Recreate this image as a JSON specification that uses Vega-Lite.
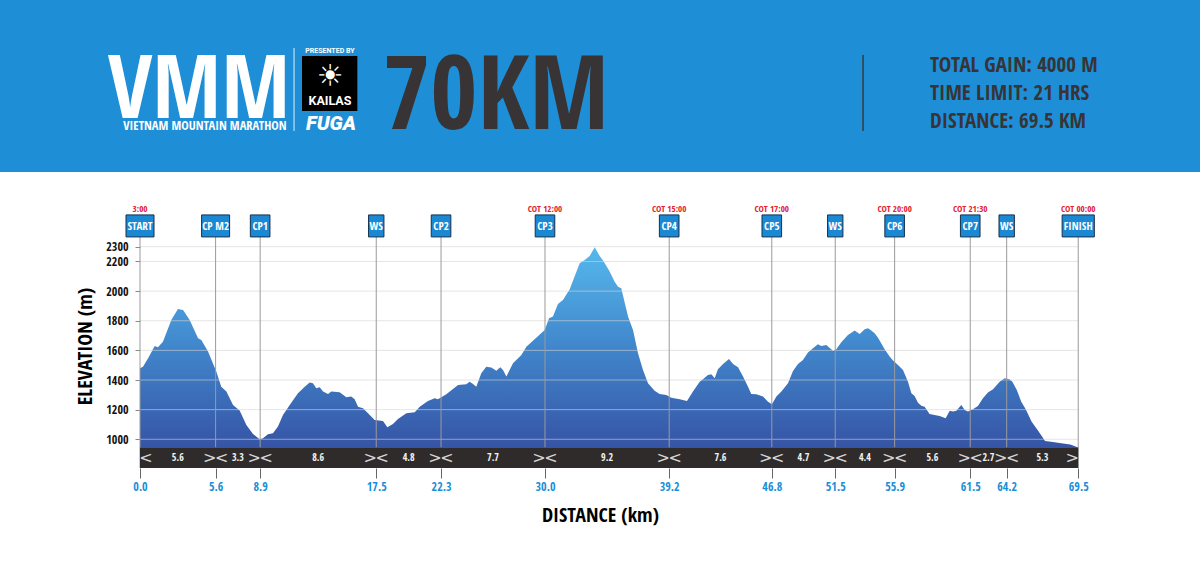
{
  "$schema": "https://vega.github.io/schema/vega-lite/v6.json",
  "width": 1060,
  "height": 468,
  "autosize": {"type": "none"},
  "padding": {"left": 140, "top": 0, "right": 0, "bottom": 93},
  "background": "white",
  "config": {
    "view": {"stroke": null},
    "font": "Open Sans Condensed, Roboto, sans-serif"
  },
  "resolve": {"axis": {"x": "independent", "y": "independent"}},
  "datasets": {
    "profile": [
      {"km": 0, "elev": 1479}, {"km": 0.22, "elev": 1490}, {"km": 0.6, "elev": 1547}, {"km": 1.09, "elev": 1630},
      {"km": 1.33, "elev": 1621}, {"km": 1.7, "elev": 1659}, {"km": 2.32, "elev": 1805}, {"km": 2.81, "elev": 1880},
      {"km": 3.19, "elev": 1873}, {"km": 3.68, "elev": 1805}, {"km": 4.3, "elev": 1682}, {"km": 4.54, "elev": 1670},
      {"km": 5.04, "elev": 1592}, {"km": 5.65, "elev": 1457}, {"km": 6.02, "elev": 1355}, {"km": 6.4, "elev": 1322},
      {"km": 6.89, "elev": 1232}, {"km": 7.38, "elev": 1194}, {"km": 7.88, "elev": 1097}, {"km": 8.37, "elev": 1036},
      {"km": 8.86, "elev": 1000}, {"km": 9.11, "elev": 1007}, {"km": 9.48, "elev": 1034}, {"km": 9.85, "elev": 1041},
      {"km": 10.22, "elev": 1086}, {"km": 10.59, "elev": 1164}, {"km": 11.09, "elev": 1232}, {"km": 11.7, "elev": 1311},
      {"km": 12.2, "elev": 1355}, {"km": 12.57, "elev": 1383}, {"km": 12.81, "elev": 1378}, {"km": 13.06, "elev": 1344},
      {"km": 13.31, "elev": 1351}, {"km": 13.56, "elev": 1322}, {"km": 13.93, "elev": 1306}, {"km": 14.17, "elev": 1322},
      {"km": 14.79, "elev": 1317}, {"km": 15.28, "elev": 1284}, {"km": 15.65, "elev": 1288}, {"km": 15.9, "elev": 1270},
      {"km": 16.15, "elev": 1220}, {"km": 16.52, "elev": 1209}, {"km": 16.89, "elev": 1175}, {"km": 17.38, "elev": 1130},
      {"km": 18.0, "elev": 1124}, {"km": 18.32, "elev": 1081}, {"km": 18.74, "elev": 1103}, {"km": 19.11, "elev": 1137},
      {"km": 19.73, "elev": 1175}, {"km": 20.35, "elev": 1182}, {"km": 20.72, "elev": 1220}, {"km": 21.33, "elev": 1259},
      {"km": 21.83, "elev": 1277}, {"km": 22.07, "elev": 1270}, {"km": 22.69, "elev": 1304}, {"km": 23.56, "elev": 1367},
      {"km": 24.17, "elev": 1371}, {"km": 24.42, "elev": 1389}, {"km": 24.67, "elev": 1373}, {"km": 24.91, "elev": 1355},
      {"km": 25.28, "elev": 1445}, {"km": 25.65, "elev": 1490}, {"km": 26.02, "elev": 1484}, {"km": 26.4, "elev": 1463},
      {"km": 26.69, "elev": 1486}, {"km": 26.89, "elev": 1468}, {"km": 27.14, "elev": 1423}, {"km": 27.63, "elev": 1513},
      {"km": 28.25, "elev": 1569}, {"km": 28.62, "elev": 1625}, {"km": 29.23, "elev": 1675}, {"km": 29.98, "elev": 1738},
      {"km": 30.3, "elev": 1817}, {"km": 30.59, "elev": 1828}, {"km": 30.96, "elev": 1913}, {"km": 31.33, "elev": 1940},
      {"km": 31.83, "elev": 2012}, {"km": 32.57, "elev": 2188}, {"km": 32.94, "elev": 2210}, {"km": 33.31, "elev": 2237},
      {"km": 33.68, "elev": 2296}, {"km": 33.8, "elev": 2278}, {"km": 34.05, "elev": 2237}, {"km": 34.3, "elev": 2206},
      {"km": 34.79, "elev": 2132}, {"km": 35.16, "elev": 2064}, {"km": 35.41, "elev": 2030}, {"km": 35.65, "elev": 2019},
      {"km": 36.15, "elev": 1828}, {"km": 36.52, "elev": 1738}, {"km": 36.89, "elev": 1580}, {"km": 37.26, "elev": 1468},
      {"km": 37.63, "elev": 1378}, {"km": 38.12, "elev": 1328}, {"km": 38.49, "elev": 1306}, {"km": 38.99, "elev": 1299},
      {"km": 39.36, "elev": 1281}, {"km": 39.98, "elev": 1270}, {"km": 40.52, "elev": 1259}, {"km": 40.96, "elev": 1322},
      {"km": 41.46, "elev": 1389}, {"km": 41.7, "elev": 1405}, {"km": 42.07, "elev": 1434}, {"km": 42.32, "elev": 1439},
      {"km": 42.57, "elev": 1412}, {"km": 42.81, "elev": 1472}, {"km": 43.19, "elev": 1508}, {"km": 43.63, "elev": 1542},
      {"km": 43.93, "elev": 1508}, {"km": 44.3, "elev": 1486}, {"km": 44.67, "elev": 1423}, {"km": 45.04, "elev": 1355},
      {"km": 45.28, "elev": 1306}, {"km": 45.65, "elev": 1304}, {"km": 46.15, "elev": 1288}, {"km": 46.52, "elev": 1254},
      {"km": 46.81, "elev": 1236}, {"km": 47.14, "elev": 1288}, {"km": 47.51, "elev": 1322}, {"km": 48.0, "elev": 1378},
      {"km": 48.37, "elev": 1461}, {"km": 48.74, "elev": 1508}, {"km": 49.11, "elev": 1535}, {"km": 49.48, "elev": 1585},
      {"km": 49.85, "elev": 1614}, {"km": 50.22, "elev": 1641}, {"km": 50.47, "elev": 1630}, {"km": 50.84, "elev": 1637},
      {"km": 51.33, "elev": 1598}, {"km": 51.58, "elev": 1607}, {"km": 51.95, "elev": 1655}, {"km": 52.44, "elev": 1704},
      {"km": 52.94, "elev": 1734}, {"km": 53.31, "elev": 1711}, {"km": 53.68, "elev": 1742}, {"km": 53.93, "elev": 1749},
      {"km": 54.17, "elev": 1734}, {"km": 54.42, "elev": 1716}, {"km": 54.67, "elev": 1686}, {"km": 55.16, "elev": 1607},
      {"km": 55.53, "elev": 1558}, {"km": 55.78, "elev": 1531}, {"km": 56.15, "elev": 1502}, {"km": 56.52, "elev": 1468},
      {"km": 56.89, "elev": 1389}, {"km": 57.14, "elev": 1310}, {"km": 57.38, "elev": 1292}, {"km": 57.63, "elev": 1247},
      {"km": 57.88, "elev": 1227}, {"km": 58.12, "elev": 1220}, {"km": 58.49, "elev": 1171}, {"km": 58.86, "elev": 1164},
      {"km": 59.23, "elev": 1157}, {"km": 59.68, "elev": 1142}, {"km": 59.98, "elev": 1193}, {"km": 60.22, "elev": 1187},
      {"km": 60.47, "elev": 1193}, {"km": 60.84, "elev": 1232}, {"km": 61.09, "elev": 1198}, {"km": 61.33, "elev": 1187},
      {"km": 61.7, "elev": 1202}, {"km": 62.07, "elev": 1225}, {"km": 62.44, "elev": 1277}, {"km": 62.81, "elev": 1315},
      {"km": 63.19, "elev": 1337}, {"km": 63.68, "elev": 1389}, {"km": 64.05, "elev": 1412}, {"km": 64.4, "elev": 1405},
      {"km": 64.62, "elev": 1389}, {"km": 64.95, "elev": 1333}, {"km": 65.28, "elev": 1254}, {"km": 65.61, "elev": 1202},
      {"km": 66.05, "elev": 1119}, {"km": 66.49, "elev": 1063}, {"km": 66.82, "elev": 1018}, {"km": 67.04, "elev": 989},
      {"km": 67.48, "elev": 984}, {"km": 68.25, "elev": 973}, {"km": 68.91, "elev": 964}, {"km": 69.35, "elev": 950},
      {"km": 69.5, "elev": 943}
    ],
    "cps": [
      {"km": 0, "name": "START", "cot": "3:00"},
      {"km": 5.6, "name": "CP M2", "cot": ""},
      {"km": 8.9, "name": "CP1", "cot": ""},
      {"km": 17.5, "name": "WS", "cot": ""},
      {"km": 22.3, "name": "CP2", "cot": ""},
      {"km": 30.0, "name": "CP3", "cot": "COT 12:00"},
      {"km": 39.2, "name": "CP4", "cot": "COT 15:00"},
      {"km": 46.8, "name": "CP5", "cot": "COT 17:00"},
      {"km": 51.5, "name": "WS", "cot": ""},
      {"km": 55.9, "name": "CP6", "cot": "COT 20:00"},
      {"km": 61.5, "name": "CP7", "cot": "COT 21:30"},
      {"km": 64.2, "name": "WS", "cot": ""},
      {"km": 69.5, "name": "FINISH", "cot": "COT 00:00"}
    ],
    "segs": [
      {"km": 2.8, "dist": "5.6"}, {"km": 7.25, "dist": "3.3"}, {"km": 13.2, "dist": "8.6"}, {"km": 19.9, "dist": "4.8"},
      {"km": 26.15, "dist": "7.7"}, {"km": 34.6, "dist": "9.2"}, {"km": 43.0, "dist": "7.6"}, {"km": 49.15, "dist": "4.7"},
      {"km": 53.7, "dist": "4.4"}, {"km": 58.7, "dist": "5.6"}, {"km": 62.85, "dist": "2.7"}, {"km": 66.85, "dist": "5.3"}
    ],
    "grid": [
      {"elev": 1000}, {"elev": 1200}, {"elev": 1400}, {"elev": 1600}, {"elev": 1800}, {"elev": 2000}, {"elev": 2200}, {"elev": 2300}
    ]
  },
  "layer": [
    {
      "data": {"values": [{"t": "header"}]},
      "mark": {"type": "rect", "color": "#1e8fd6"},
      "encoding": {
        "x": {"datum": -10.5, "type": "quantitative", "scale": {"domain": [0, 78.52], "nice": false, "zero": false}, "axis": null},
        "x2": {"datum": 78.7},
        "y": {"datum": 2804, "type": "quantitative", "scale": {"domain": [806, 3965], "nice": false, "zero": false}, "axis": null},
        "y2": {"datum": 3975}
      }
    },
    {
      "data": {"values": [{"t": "VMM"}]},
      "mark": {"type": "text", "align": "left", "baseline": "alphabetic", "fontSize": 88, "fontWeight": "bold", "font": "Open Sans Condensed, Roboto", "color": "white"},
      "encoding": {
        "x": {"datum": -2.37, "type": "quantitative", "scale": {"domain": [0, 78.52], "nice": false, "zero": false}, "axis": null},
        "y": {"datum": 3168, "type": "quantitative", "scale": {"domain": [806, 3965], "nice": false, "zero": false}, "axis": null},
        "text": {"field": "t"}
      }
    },
    {
      "data": {"values": [{"t": "VIETNAM MOUNTAIN MARATHON"}]},
      "mark": {"type": "text", "align": "center", "baseline": "alphabetic", "fontSize": 12.5, "fontWeight": "bold", "font": "Open Sans Condensed, DejaVu Sans Condensed", "color": "white"},
      "encoding": {
        "x": {"datum": 4.81, "type": "quantitative", "scale": {"domain": [0, 78.52], "nice": false, "zero": false}, "axis": null},
        "y": {"datum": 3086, "type": "quantitative", "scale": {"domain": [806, 3965], "nice": false, "zero": false}, "axis": null},
        "text": {"field": "t"}
      }
    },
    {
      "data": {"values": [{"t": "divider"}]},
      "mark": {"type": "rule", "color": "white", "strokeWidth": 1, "opacity": 0.85},
      "encoding": {
        "x": {"datum": 11.41, "type": "quantitative", "scale": {"domain": [0, 78.52], "nice": false, "zero": false}, "axis": null},
        "y": {"datum": 3641, "type": "quantitative", "scale": {"domain": [806, 3965], "nice": false, "zero": false}, "axis": null},
        "y2": {"datum": 3081}
      }
    },
    {
      "data": {"values": [{"t": "PRESENTED BY"}]},
      "mark": {"type": "text", "align": "center", "baseline": "alphabetic", "fontSize": 7, "fontWeight": "bold", "font": "Roboto", "color": "white"},
      "encoding": {
        "x": {"datum": 14.07, "type": "quantitative", "scale": {"domain": [0, 78.52], "nice": false, "zero": false}, "axis": null},
        "y": {"datum": 3604, "type": "quantitative", "scale": {"domain": [806, 3965], "nice": false, "zero": false}, "axis": null},
        "text": {"field": "t"}
      }
    },
    {
      "data": {"values": [{"t": "logo"}]},
      "mark": {"type": "rect", "color": "#000000"},
      "encoding": {
        "x": {"datum": 12.0, "type": "quantitative", "scale": {"domain": [0, 78.52], "nice": false, "zero": false}, "axis": null},
        "x2": {"datum": 16.1},
        "y": {"datum": 3587, "type": "quantitative", "scale": {"domain": [806, 3965], "nice": false, "zero": false}, "axis": null},
        "y2": {"datum": 3216}
      }
    },
    {
      "data": {"values": [{"t": "☀"}]},
      "mark": {"type": "text", "align": "center", "baseline": "middle", "fontSize": 30, "font": "DejaVu Sans", "color": "white"},
      "encoding": {
        "x": {"datum": 14.07, "type": "quantitative", "scale": {"domain": [0, 78.52], "nice": false, "zero": false}, "axis": null},
        "y": {"datum": 3445, "type": "quantitative", "scale": {"domain": [806, 3965], "nice": false, "zero": false}, "axis": null},
        "text": {"field": "t"}
      }
    },
    {
      "data": {"values": [{"t": "KAILAS"}]},
      "mark": {"type": "text", "align": "center", "baseline": "alphabetic", "fontSize": 12.5, "fontWeight": "bold", "font": "Roboto", "color": "white"},
      "encoding": {
        "x": {"datum": 14.07, "type": "quantitative", "scale": {"domain": [0, 78.52], "nice": false, "zero": false}, "axis": null},
        "y": {"datum": 3256, "type": "quantitative", "scale": {"domain": [806, 3965], "nice": false, "zero": false}, "axis": null},
        "text": {"field": "t"}
      }
    },
    {
      "data": {"values": [{"t": "FUGA"}]},
      "mark": {"type": "text", "align": "center", "baseline": "alphabetic", "fontSize": 20, "fontWeight": 900, "fontStyle": "italic", "font": "Roboto", "color": "white"},
      "encoding": {
        "x": {"datum": 14.15, "type": "quantitative", "scale": {"domain": [0, 78.52], "nice": false, "zero": false}, "axis": null},
        "y": {"datum": 3088, "type": "quantitative", "scale": {"domain": [806, 3965], "nice": false, "zero": false}, "axis": null},
        "text": {"field": "t"}
      }
    },
    {
      "data": {"values": [{"t": "70KM"}]},
      "mark": {"type": "text", "align": "left", "baseline": "alphabetic", "fontSize": 102, "fontWeight": "bold", "font": "Open Sans Condensed, Roboto", "color": "#383435"},
      "encoding": {
        "x": {"datum": 18.0, "type": "quantitative", "scale": {"domain": [0, 78.52], "nice": false, "zero": false}, "axis": null},
        "y": {"datum": 3094, "type": "quantitative", "scale": {"domain": [806, 3965], "nice": false, "zero": false}, "axis": null},
        "text": {"field": "t"}
      }
    },
    {
      "data": {"values": [{"t": "divider2"}]},
      "mark": {"type": "rule", "color": "#3a3a3a", "strokeWidth": 1.5},
      "encoding": {
        "x": {"datum": 53.56, "type": "quantitative", "scale": {"domain": [0, 78.52], "nice": false, "zero": false}, "axis": null},
        "y": {"datum": 3594, "type": "quantitative", "scale": {"domain": [806, 3965], "nice": false, "zero": false}, "axis": null},
        "y2": {"datum": 3081}
      }
    },
    {
      "data": {"values": [{"t": "TOTAL GAIN: 4000 M|TIME LIMIT: 21 HRS|DISTANCE: 69.5 KM"}]},
      "mark": {"type": "text", "align": "left", "baseline": "alphabetic", "fontSize": 21, "fontWeight": "bold", "font": "Open Sans Condensed, Roboto", "color": "#383435", "lineBreak": "|", "lineHeight": 28},
      "encoding": {
        "x": {"datum": 58.52, "type": "quantitative", "scale": {"domain": [0, 78.52], "nice": false, "zero": false}, "axis": null},
        "y": {"datum": 3479, "type": "quantitative", "scale": {"domain": [806, 3965], "nice": false, "zero": false}, "axis": null},
        "text": {"field": "t"}
      }
    },
    {
      "data": {"name": "profile"},
      "mark": {
        "type": "area",
        "line": false,
        "color": {
          "gradient": "linear", "x1": 0, "y1": 0, "x2": 0, "y2": 1,
          "stops": [{"offset": 0, "color": "#56b8ec"}, {"offset": 0.45, "color": "#428bcf"}, {"offset": 1, "color": "#3654a6"}]
        }
      },
      "encoding": {
        "x": {
          "field": "km", "type": "quantitative",
          "scale": {"domain": [0, 78.52], "nice": false, "zero": false},
          "axis": {
            "values": [0, 5.6, 8.9, 17.5, 22.3, 30, 39.2, 46.8, 51.5, 55.9, 61.5, 64.2, 69.5],
            "format": ".1f",
            "domain": false,
            "grid": false,
            "tickColor": "#666666",
            "tickSize": 10,
            "labelPadding": 3,
            "labelColor": "#1a8fd8",
            "labelFont": "Open Sans Condensed, Roboto",
            "labelFontWeight": "bold",
            "labelFontSize": 12,
            "labelOverlap": false,
            "labelFlush": false,
            "title": "DISTANCE (km)",
            "titleFont": "Open Sans Condensed, Roboto",
            "titleFontSize": 20,
            "titleFontWeight": "bold",
            "titleColor": "#000000",
            "titlePadding": 13,
            "titleX": 460
          }
        },
        "y": {
          "field": "elev", "type": "quantitative",
          "scale": {"domain": [806, 3965], "nice": false, "zero": false},
          "axis": {
            "values": [1000, 1200, 1400, 1600, 1800, 2000, 2200, 2300],
            "format": "d",
            "domain": false,
            "grid": false,
            "tickColor": "#888888",
            "tickSize": 5,
            "labelPadding": 7,
            "labelColor": "#111111",
            "labelFont": "Open Sans Condensed, Roboto",
            "labelFontWeight": "bold",
            "labelFontSize": 12,
            "title": "ELEVATION (m)",
            "titleFont": "Open Sans Condensed, Roboto",
            "titleFontSize": 20,
            "titleFontWeight": "bold",
            "titleColor": "#000000",
            "titleX": -45,
            "titleY": 346
          }
        },
        "y2": {"datum": 943}
      }
    },
    {
      "data": {"name": "grid"},
      "mark": {"type": "rule", "color": "#d4d4d4", "strokeWidth": 1, "opacity": 0.6},
      "encoding": {
        "x": {"datum": 0, "type": "quantitative", "scale": {"domain": [0, 78.52], "nice": false, "zero": false}, "axis": null},
        "x2": {"datum": 69.5},
        "y": {"field": "elev", "type": "quantitative", "scale": {"domain": [806, 3965], "nice": false, "zero": false}, "axis": null}
      }
    },
    {
      "data": {"name": "cps"},
      "mark": {"type": "rule", "color": "#9a9a9a", "strokeWidth": 1},
      "encoding": {
        "x": {"field": "km", "type": "quantitative", "scale": {"domain": [0, 78.52], "nice": false, "zero": false}, "axis": null},
        "y": {"datum": 2365, "type": "quantitative", "scale": {"domain": [806, 3965], "nice": false, "zero": false}, "axis": null},
        "y2": {"datum": 806}
      }
    },
    {
      "data": {"values": [{"t": "band"}]},
      "mark": {"type": "rect", "color": "#2f2b2b"},
      "encoding": {
        "x": {"datum": 0, "type": "quantitative", "scale": {"domain": [0, 78.52], "nice": false, "zero": false}, "axis": null},
        "x2": {"datum": 69.5},
        "y": {"datum": 806, "type": "quantitative", "scale": {"domain": [806, 3965], "nice": false, "zero": false}, "axis": null},
        "y2": {"datum": 944}
      }
    },
    {
      "data": {"name": "cps"},
      "transform": [{"filter": "datum.km < 69"}],
      "mark": {"type": "text", "text": "<", "align": "center", "baseline": "middle", "dx": 6, "fontSize": 16, "font": "DejaVu Sans", "color": "#d6d6d6"},
      "encoding": {
        "x": {"field": "km", "type": "quantitative", "scale": {"domain": [0, 78.52], "nice": false, "zero": false}, "axis": null},
        "y": {"datum": 874, "type": "quantitative", "scale": {"domain": [806, 3965], "nice": false, "zero": false}, "axis": null}
      }
    },
    {
      "data": {"name": "cps"},
      "transform": [{"filter": "datum.km > 0"}],
      "mark": {"type": "text", "text": ">", "align": "center", "baseline": "middle", "dx": -6, "fontSize": 16, "font": "DejaVu Sans", "color": "#d6d6d6"},
      "encoding": {
        "x": {"field": "km", "type": "quantitative", "scale": {"domain": [0, 78.52], "nice": false, "zero": false}, "axis": null},
        "y": {"datum": 874, "type": "quantitative", "scale": {"domain": [806, 3965], "nice": false, "zero": false}, "axis": null}
      }
    },
    {
      "data": {"name": "segs"},
      "mark": {"type": "text", "align": "center", "baseline": "middle", "fontSize": 10, "fontWeight": "bold", "font": "Open Sans Condensed, Roboto", "color": "#f2f2f2"},
      "encoding": {
        "x": {"field": "km", "type": "quantitative", "scale": {"domain": [0, 78.52], "nice": false, "zero": false}, "axis": null},
        "y": {"datum": 874, "type": "quantitative", "scale": {"domain": [806, 3965], "nice": false, "zero": false}, "axis": null},
        "text": {"field": "dist"}
      }
    },
    {
      "data": {"name": "cps"},
      "mark": {"type": "rect", "color": "#1a88d2", "stroke": "#17324f", "strokeWidth": 1, "height": 22, "width": {"expr": "length(datum.name) * 4.2 + 7"}},
      "encoding": {
        "x": {"field": "km", "type": "quantitative", "scale": {"domain": [0, 78.52], "nice": false, "zero": false}, "axis": null},
        "y": {"datum": 2440, "type": "quantitative", "scale": {"domain": [806, 3965], "nice": false, "zero": false}, "axis": null}
      }
    },
    {
      "data": {"name": "cps"},
      "mark": {"type": "text", "align": "center", "baseline": "middle", "fontSize": 11, "fontWeight": "bold", "font": "Open Sans Condensed, Roboto", "color": "white", "dy": 1},
      "encoding": {
        "x": {"field": "km", "type": "quantitative", "scale": {"domain": [0, 78.52], "nice": false, "zero": false}, "axis": null},
        "y": {"datum": 2440, "type": "quantitative", "scale": {"domain": [806, 3965], "nice": false, "zero": false}, "axis": null},
        "text": {"field": "name"}
      }
    },
    {
      "data": {"name": "cps"},
      "mark": {"type": "text", "align": "center", "baseline": "alphabetic", "fontSize": 9, "fontWeight": "bold", "font": "Open Sans Condensed, Roboto", "color": "#e3202b"},
      "encoding": {
        "x": {"field": "km", "type": "quantitative", "scale": {"domain": [0, 78.52], "nice": false, "zero": false}, "axis": null},
        "y": {"datum": 2531, "type": "quantitative", "scale": {"domain": [806, 3965], "nice": false, "zero": false}, "axis": null},
        "text": {"field": "cot"}
      }
    }
  ]
}
